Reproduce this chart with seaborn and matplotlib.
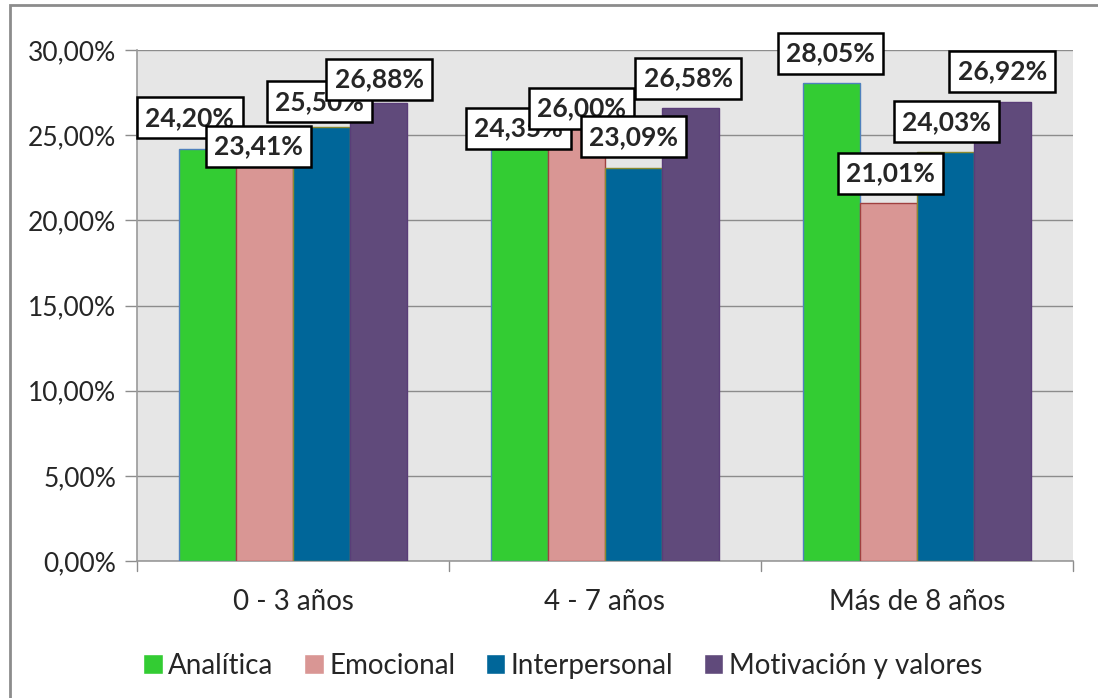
import pandas as pd
import numpy as np
import matplotlib
matplotlib.use("Agg")
import matplotlib.pyplot as plt
import seaborn as sns
from matplotlib.patches import Rectangle

# Data
groups = ["0 - 3 años", "4 - 7 años", "Más de 8 años"]
series = ["Analítica", "Emocional", "Interpersonal", "Motivación y valores"]
analitica = [24.20, 24.35, 28.05]
emocional = [23.41, 26.00, 21.01]
interpersonal = [25.50, 23.09, 24.03]
motivacion = [26.88, 26.58, 26.92]

colors = ["#33cc33", "#d99694", "#006699", "#604a7b"]
edges = ["#4f81bd", "#a04040", "#8a8a30", "#5a3d78"]

# label offsets (pixels) to mimic the original layout
label_offsets = [
    [(-18, 31), (-1, 18), (-1, 30)],
    [(-6, 16), (5, 10), (2, 30)],
    [(-2, 25), (0, 31), (1, 30)],
    [(1, 24), (-2, 30), (0, 31)],
]

values = [analitica, emocional, interpersonal, motivacion]
rows = []
for s, vals in zip(series, values):
    for g, v in zip(groups, vals):
        rows.append({"grupo": g, "serie": s, "valor": v})
df = pd.DataFrame(rows)

sns.set_style("white")
plt.rcParams["font.family"] = ["Lato", "DejaVu Sans"]

fig = plt.figure(figsize=(10.98, 6.98), dpi=100)
ax = fig.add_axes([137 / 1098, 1 - 561 / 698, (1073 - 137) / 1098, (561 - 50) / 698])
ax.set_facecolor("#e6e6e6")

sns.barplot(
    data=df, x="grupo", y="valor", hue="serie",
    palette=colors, saturation=1, width=0.73,
    linewidth=1, ax=ax, zorder=3, errorbar=None
)

for cont, ec in zip(ax.containers, edges):
    for bar in cont:
        bar.set_edgecolor(ec)

# Data labels
for i, cont in enumerate(ax.containers):
    for j, bar in enumerate(cont):
        v = values[i][j]
        dx, dy = label_offsets[i][j]
        ax.annotate(
            f"{v:.2f}".replace(".", ",") + "%",
            xy=(bar.get_x() + bar.get_width() / 2, bar.get_height()),
            xytext=(dx, dy), textcoords="offset pixels",
            ha="center", va="center", fontsize=19, fontweight="bold",
            bbox=dict(boxstyle="square,pad=0.32", fc="white", ec="black", lw=1.8),
            zorder=5, annotation_clip=False
        )

ax.set_ylim(0, 30)
ax.set_xlim(-0.5, 2.5)
yt = np.arange(0, 30.01, 5)
ax.set_yticks(yt)
ax.set_yticklabels([f"{t:.2f}".replace(".", ",") + "%" for t in yt], fontsize=19)
ax.yaxis.grid(True, color="#8c8c8c", linewidth=1, zorder=0)
ax.set_axisbelow(True)

ax.set_xticks([0, 1, 2])
ax.set_xticklabels(groups, fontsize=20)
ax.tick_params(axis="x", length=0, pad=20)
ax.tick_params(axis="y", length=9, width=1, color="#8c8c8c", pad=6, left=True)
for b in [-0.5, 0.5, 1.5, 2.5]:
    ax.plot([b, b], [0, -0.6], color="#8c8c8c", lw=1, clip_on=False)

ax.set_xlabel("")
ax.set_ylabel("")
for side in ["top", "right"]:
    ax.spines[side].set_visible(False)
for side in ["left", "bottom"]:
    ax.spines[side].set_color("#9a9a9a")
    ax.spines[side].set_linewidth(1.2)

# Legend
handles, labels = ax.get_legend_handles_labels()
ax.legend(
    handles, labels, loc="center", bbox_to_anchor=(0.455, -0.205),
    ncol=4, frameon=False, fontsize=20, handlelength=0.7, handleheight=0.7,
    handletextpad=0.2, columnspacing=1.1
)

# outer frame
fig.patches.append(Rectangle((10 / 1098, -0.01), 1.1, 1 - 5 / 698 + 0.01,
                             transform=fig.transFigure, fill=False,
                             edgecolor="#8c8c8c", linewidth=2))

fig.savefig("out.png", dpi=100)
